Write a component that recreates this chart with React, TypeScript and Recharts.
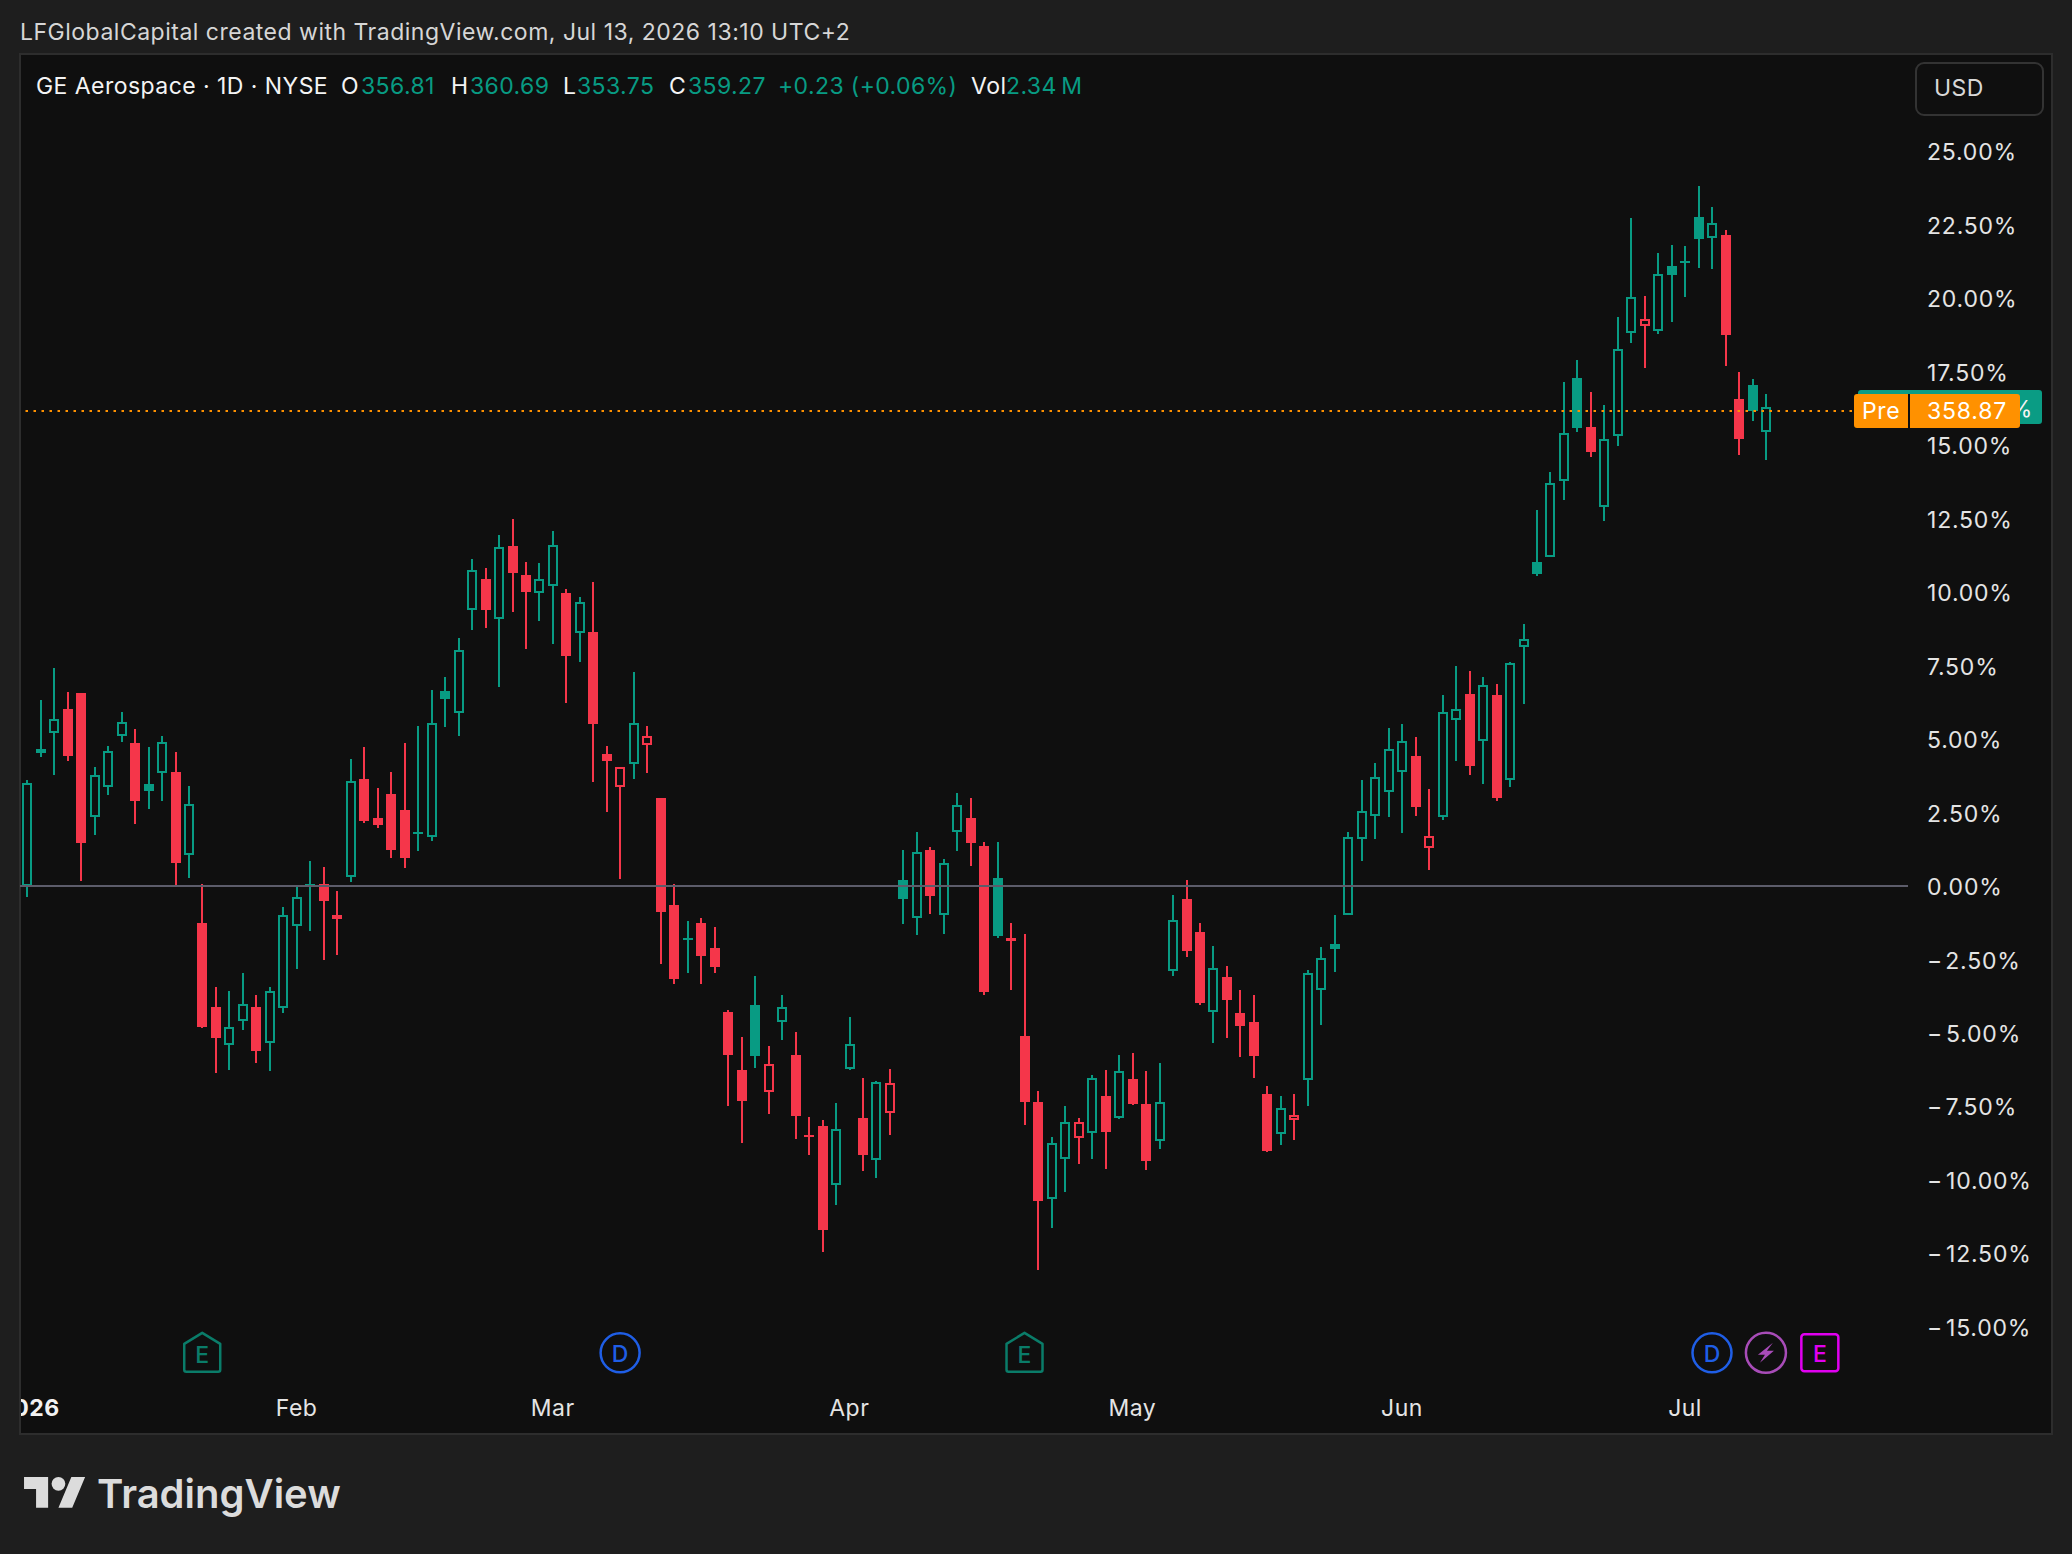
import React from "react";
import { ComposedChart, Bar, XAxis, YAxis, ReferenceLine, ReferenceDot } from "recharts";

const opens = [0.00,4.51,5.19,6.02,6.56,2.34,3.36,5.09,4.86,3.47,3.83,3.88,1.04,-1.26,-4.12,-5.42,-4.60,-4.12,-5.33,-4.14,-1.37,0.01,0.07,-0.99,0.29,3.64,2.31,3.13,2.59,1.78,1.66,6.63,5.87,9.38,10.44,9.07,11.56,10.58,9.95,10.19,9.97,8.62,8.64,4.49,3.38,4.16,4.81,2.99,-0.65,-1.81,-1.26,-2.11,-4.29,-6.26,-4.05,-7.00,-4.61,-5.75,-8.47,-8.16,-10.16,-6.21,-7.89,-9.31,-7.71,0.20,-1.10,1.22,-0.98,1.83,2.31,1.36,0.27,-1.77,-5.10,-7.35,-10.63,-9.30,-8.58,-8.41,-7.14,-7.88,-6.56,-7.41,-8.68,-2.90,-0.44,-1.56,-4.30,-3.10,-4.32,-4.63,-7.07,-8.42,-7.95,-6.59,-3.53,-1.97,-0.98,1.59,2.39,3.21,3.89,4.42,1.30,2.36,5.66,6.53,4.94,6.50,3.62,8.14,11.02,11.20,13.79,17.28,15.61,12.90,15.32,18.82,19.06,18.89,21.09,21.20,22.76,22.05,22.14,16.56,17.04,15.45];
const highs = [3.61,6.33,7.40,6.60,6.56,4.05,4.76,5.92,5.34,4.73,5.10,4.56,3.40,0.07,-3.44,-3.57,-2.96,-3.71,-3.44,-0.71,-0.03,0.85,0.65,-0.17,4.32,4.73,3.33,3.88,4.86,5.44,6.67,7.11,8.44,11.12,10.82,11.94,12.48,11.02,10.99,12.07,10.10,9.83,10.34,4.76,4.06,7.28,5.44,2.99,0.07,-1.19,-1.09,-1.39,-4.22,-5.14,-3.06,-5.44,-3.71,-4.97,-7.86,-7.96,-7.38,-4.46,-6.53,-6.63,-6.22,1.22,1.84,1.33,0.92,3.16,2.99,1.50,1.50,-1.26,-1.63,-6.97,-8.54,-7.48,-7.89,-6.43,-6.26,-5.75,-5.68,-6.29,-6.02,-0.31,0.20,-1.26,-2.04,-2.72,-3.54,-3.71,-6.80,-7.14,-7.07,-2.86,-2.07,-0.99,1.84,3.61,4.18,5.37,5.51,5.07,3.30,6.50,7.48,7.31,7.11,6.87,7.62,8.91,12.79,14.08,17.14,17.89,16.80,16.36,19.35,22.72,20.07,21.53,21.80,21.77,23.81,23.10,22.31,17.48,17.25,16.73];
const lows = [-0.36,4.40,3.79,4.26,0.18,1.75,3.11,4.91,2.12,2.63,2.90,-0.03,0.28,-4.83,-6.36,-6.26,-4.90,-6.02,-6.29,-4.32,-2.82,-1.53,-2.52,-2.35,0.14,2.14,1.97,0.95,0.61,1.19,1.53,5.41,5.10,8.71,8.78,6.77,9.32,8.06,9.01,8.23,6.22,7.62,3.54,2.52,0.24,3.64,3.84,-2.65,-3.33,-2.96,-3.33,-2.96,-7.48,-8.74,-6.19,-7.76,-5.24,-8.61,-9.15,-12.45,-10.85,-6.26,-9.69,-9.93,-8.47,-1.29,-1.67,-0.95,-1.63,1.19,0.68,-3.71,-1.77,-3.54,-8.13,-13.06,-11.63,-10.41,-9.46,-9.29,-9.63,-7.93,-7.45,-9.66,-8.95,-3.06,-2.41,-4.05,-5.34,-5.17,-5.82,-6.53,-9.05,-8.81,-8.64,-7.48,-4.73,-2.93,-0.98,0.85,1.60,2.35,1.80,2.38,0.54,2.24,4.25,3.78,3.47,2.89,3.37,6.19,10.54,11.20,13.13,15.44,14.59,12.42,14.97,18.47,17.62,18.78,19.18,20.03,21.02,20.99,17.69,14.66,15.82,14.49];
const closes = [3.51,4.67,5.69,4.42,1.46,3.79,4.60,5.59,2.89,3.23,4.91,0.78,2.80,-4.80,-5.17,-4.78,-4.00,-5.61,-3.56,-0.98,-0.36,0.06,-0.51,-1.12,3.58,2.21,2.07,1.22,0.95,1.84,5.56,6.36,8.04,10.76,9.39,11.54,10.65,10.00,10.45,11.59,7.82,9.67,5.51,4.25,4.06,5.53,5.09,-0.88,-3.16,-1.76,-2.38,-2.76,-5.75,-7.31,-5.78,-6.07,-4.13,-7.82,-8.53,-11.70,-8.28,-5.39,-9.15,-6.68,-6.71,-0.44,1.17,-0.34,0.79,2.77,1.46,-3.61,-1.70,-1.87,-7.35,-10.71,-8.73,-8.02,-8.02,-6.52,-8.37,-6.28,-7.41,-9.35,-7.34,-1.15,-2.21,-3.98,-2.78,-3.88,-4.76,-5.78,-9.01,-7.56,-7.80,-2.97,-2.46,-2.14,1.66,2.54,3.70,4.65,4.92,2.69,1.69,5.91,6.01,4.08,6.83,2.99,7.57,8.39,10.61,13.70,15.40,15.58,14.76,15.22,18.25,20.02,19.27,20.81,20.78,21.26,22.01,22.54,18.74,15.20,16.16,16.28];
const directionRuns = [
  "gggrrgggrg", "grgrrggrgg", "ggrrgrrrrg", "ggggrgrrgg", "rgrrrgrrrg", "rrrrgrgrrr", "ggrgrggrgg",
  "rrgrrrggrg", "rgrrggrrgr", "rrrgrggggg", "gggrrggrgr", "ggggggrggg", "rgggggrrgg",
];
const directions = directionRuns.join("").split("");

const yTicks = [25, 22.5, 20, 17.5, 15, 12.5, 10, 7.5, 5, 2.5, 0, -2.5, -5, -7.5, -10, -12.5, -15];
const monthTicks = [0, 20, 39, 61, 82, 102, 123];
const monthLabels = ["2026", "Feb", "Mar", "Apr", "May", "Jun", "Jul"];
const preMarketLevel = 16.156;
const markerLevel = -15.88;
const earningsPast = [13, 74];
const dividends = [44, 125];
const splitDay = [129];
const earningsNext = [133];

const GREEN = "#089b83";
const RED = "#f5364a";
const FONT = "Inter, sans-serif";

const candles = closes.map((close, i) => ({
  day: i,
  open: opens[i],
  high: highs[i],
  low: lows[i],
  close,
  range: [lows[i], highs[i]],
  color: directions[i] === "g" ? GREEN : RED,
}));

const Candle = (props: any) => {
  const { x, y, width, height, payload } = props;
  const { open, high, low, close, color } = payload;
  const top = Math.min(y, y + height);
  const k = Math.abs(height) / (high - low);
  const yOf = (v: number) => top + (high - v) * k;
  const cx = Math.round(x + width / 2);
  const bt = Math.round(yOf(Math.max(open, close)));
  const bb = Math.round(yOf(Math.min(open, close)));
  const yh = Math.round(yOf(high));
  const yl = Math.round(yOf(low));
  const h = Math.max(bb - bt, 2);
  const hollow = close > open && h > 4;
  return (
    <g shapeRendering="crispEdges">
      {bt > yh && <rect x={cx - 1} y={yh} width={2} height={bt - yh} fill={color} />}
      {yl > bt + h && <rect x={cx - 1} y={bt + h} width={2} height={yl - bt - h} fill={color} />}
      {hollow ? (
        <rect x={cx - 4} y={bt + 1} width={8} height={h - 2} fill="#0f0f0f" stroke={color} strokeWidth={2} />
      ) : (
        <rect x={cx - 5} y={bt} width={10} height={h} fill={color} />
      )}
    </g>
  );
};

const MonthTick = (props: any) => {
  const { x, y, payload } = props;
  const i = monthTicks.indexOf(payload.value);
  const first = i === 0;
  return (
    <text
      x={first ? x + 2 : x}
      y={y}
      textAnchor="middle"
      dominantBaseline="central"
      fontFamily={FONT}
      fontSize={23}
      letterSpacing={0.5}
      fontWeight={first ? 700 : 400}
      fill={first ? "#f2f2f2" : "#e4e4e4"}
      clipPath={first ? "url(#panelClip)" : undefined}
    >
      {monthLabels[i]}
    </text>
  );
};

const fmtPct = (v: number) => `${Math.abs(v).toFixed(2)}%`;

const PriceTick = (props: any) => (
  <text
    x={props.x}
    y={props.y + 1}
    textAnchor="start"
    dominantBaseline="central"
    fontFamily={FONT}
    fontSize={23}
    letterSpacing={0.8}
    fill="#e4e4e4"
  >
    {props.payload.value < 0 && "\u2212"}
    <tspan dx={props.payload.value < 0 ? 3 : 0}>{fmtPct(props.payload.value)}</tspan>
  </text>
);

const markerText = (cx: number, cy: number, label: string, color: string) => (
  <text x={cx} y={cy + 1} textAnchor="middle" dominantBaseline="central" fontFamily={FONT} fontSize={23} fontWeight={500} fill={color}>
    {label}
  </text>
);

const EarnHouse = (p: any) => (
  <g>
    <path
      d={`M${p.cx} ${p.cy - 20} L${p.cx + 18} ${p.cy - 9} V${p.cy + 17} Q${p.cx + 18} ${p.cy + 19} ${p.cx + 16} ${p.cy + 19} H${p.cx - 16} Q${p.cx - 18} ${p.cy + 19} ${p.cx - 18} ${p.cy + 17} V${p.cy - 9} Z`}
      fill="none"
      stroke="#0a7c69"
      strokeWidth={2.5}
      strokeLinejoin="round"
    />
    {markerText(p.cx, p.cy + 1, "E", "#0a7c69")}
  </g>
);
const DivCircle = (p: any) => (
  <g>
    <circle cx={p.cx} cy={p.cy} r={19.5} fill="none" stroke="#1f5ee6" strokeWidth={2.5} />
    {markerText(p.cx, p.cy, "D", "#1f5ee6")}
  </g>
);
const BoltCircle = (p: any) => (
  <g>
    <circle cx={p.cx} cy={p.cy} r={20} fill="none" stroke="#a84cb8" strokeWidth={2.5} />
    <path
      d={`M${p.cx + 7} ${p.cy - 10} L${p.cx - 8} ${p.cy + 2} H${p.cx - 1} L${p.cx - 6} ${p.cy + 10} L${p.cx + 8} ${p.cy - 2} H${p.cx + 1} Z`}
      fill="#a84cb8"
    />
  </g>
);
const EarnSquare = (p: any) => (
  <g>
    <rect x={p.cx - 18.5} y={p.cy - 18.5} width={37} height={37} rx={3} fill="none" stroke="#e000f0" strokeWidth={2.5} />
    {markerText(p.cx, p.cy, "E", "#e000f0")}
  </g>
);

const abs = (left: number, top: number, extra: React.CSSProperties = {}): React.CSSProperties => ({
  position: "absolute",
  left,
  top,
  whiteSpace: "nowrap",
  lineHeight: 1,
  fontFamily: FONT,
  ...extra,
});

const headerWhite = [
  { text: "GE Aerospace \u00b7 1D \u00b7 NYSE", left: 36 },
  { text: "O", left: 341 },
  { text: "H", left: 451 },
  { text: "L", left: 563 },
  { text: "C", left: 669 },
  { text: "Vol", left: 971 },
];
const headerGreen = [
  { text: "356.81", left: 361 },
  { text: "360.69", left: 470 },
  { text: "353.75", left: 577 },
  { text: "359.27", left: 688 },
  { text: "+0.23 (+0.06%)", left: 778 },
  { text: "2.34\u2009M", left: 1006 },
];

export default function App() {
  return (
    <div style={{ position: "absolute", left: 0, top: 0, width: 2072, height: 1554, background: "#1e1e1e", overflow: "hidden" }}>
      <div style={{ position: "absolute", left: 19, top: 53, width: 2030, height: 1378, background: "#0f0f0f", border: "2px solid #2d2d2d" }} />
      <div style={abs(20, 21, { fontSize: 23, letterSpacing: 0.5, color: "#d6d6d6" })}>LFGlobalCapital created with TradingView.com, Jul 13, 2026 13:10 UTC+2</div>

      <div style={{ position: "absolute", left: 0, top: 0 }}>
        <ComposedChart
          width={2072}
          height={1554}
          data={candles}
          margin={{ top: 54, right: 20, bottom: 121, left: 20 }}
        >
          <defs>
            <clipPath id="panelClip">
              <rect x={21} y={1340} width={2030} height={100} />
            </clipPath>
          </defs>
          <XAxis
            dataKey="day"
            type="number"
            domain={[-0.519, 139.54]}
            allowDataOverflow
            ticks={monthTicks}
            interval={0}
            height={50}
            tick={<MonthTick />}
            tickLine={false}
            axisLine={false}
            tickMargin={19}
          />
          <YAxis
            orientation="right"
            type="number"
            domain={[-16.905, 28.3]}
            allowDataOverflow
            ticks={yTicks}
            interval={0}
            width={144}
            tickLine={false}
            axisLine={false}
            tickSize={0}
            tickMargin={19}
            tick={<PriceTick />}
          />
          <ReferenceLine y={0} stroke="#5c5c6a" strokeWidth={2} />
          <ReferenceLine y={preMarketLevel} stroke="#ff9100" strokeWidth={2} strokeDasharray="2.5 5.5" />
          <Bar dataKey="range" barSize={10} shape={<Candle />} isAnimationActive={false} />
          {earningsPast.map((d) => (
            <ReferenceDot key={`e${d}`} x={d} y={markerLevel} shape={<EarnHouse />} />
          ))}
          {dividends.map((d) => (
            <ReferenceDot key={`d${d}`} x={d} y={markerLevel} shape={<DivCircle />} />
          ))}
          {splitDay.map((d) => (
            <ReferenceDot key={`s${d}`} x={d} y={markerLevel} shape={<BoltCircle />} />
          ))}
          {earningsNext.map((d) => (
            <ReferenceDot key={`n${d}`} x={d} y={markerLevel} shape={<EarnSquare />} />
          ))}
        </ComposedChart>
      </div>

      {headerWhite.map((h) => (
        <div key={h.text} style={abs(h.left, 75, { fontSize: 23, letterSpacing: 0.45, color: "#f4f4f4" })}>{h.text}</div>
      ))}
      {headerGreen.map((h) => (
        <div key={h.text} style={abs(h.left, 75, { fontSize: 23, letterSpacing: 0.4, color: GREEN })}>{h.text}</div>
      ))}

      <div style={{ position: "absolute", left: 1915, top: 62, width: 125, height: 50, border: "2px solid #333", borderRadius: 9 }} />
      <div style={abs(1934, 77, { fontSize: 23, letterSpacing: 0.4, color: "#d8d8d8" })}>USD</div>

      <div style={{ position: "absolute", left: 1858, top: 390, width: 184, height: 34, background: "#0a9c84", borderRadius: 3 }} />
      <div style={abs(1932, 398, { fontSize: 23, letterSpacing: 0.8, color: "#f4f4f4" })}>+16.28%</div>
      <div style={{ position: "absolute", left: 1854, top: 394, width: 166, height: 34, background: "#ff9100", borderRadius: 3 }} />
      <div style={{ position: "absolute", left: 1908, top: 394, width: 2, height: 34, background: "#0f0f0f" }} />
      <div style={abs(1862, 400, { fontSize: 23, letterSpacing: 0.6, color: "#ffffff" })}>Pre</div>
      <div style={abs(1927, 400, { fontSize: 23, letterSpacing: 0.8, color: "#ffffff" })}>358.87</div>

      <svg style={{ position: "absolute", left: 24, top: 1470 }} width={62} height={41.3} viewBox="0 0 36 24">
        <path d="M14 22H7V11H0V4h14v18zM28 22h-8l7.5-18h8L28 22z" fill="#dcdcdc" />
        <circle cx={20} cy={8} r={4} fill="#dcdcdc" />
      </svg>
      <div style={abs(97, 1474, { fontSize: 40, fontWeight: 600, letterSpacing: 0, color: "#dcdcdc" })}>TradingView</div>
    </div>
  );
}
